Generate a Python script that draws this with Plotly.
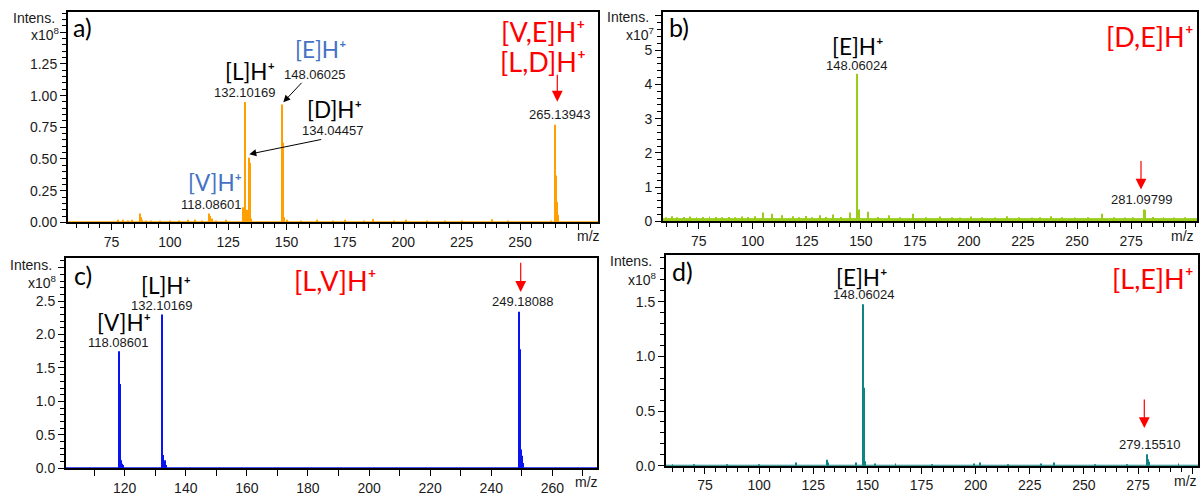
import plotly.graph_objects as go

W, H = 1201, 497

# ---------------- data ----------------
# Panel a: intensity in units of 1e8
a_mz = [78, 80, 82, 84, 87.2, 87.6, 88.2, 90, 92, 96, 100, 104, 108, 111, 114,
        116.9, 117.3, 118.1, 120, 124,
        131.5, 132.1, 132.4, 133.1, 133.8, 134.05, 134.4, 135.0,
        148.06, 148.4, 149.1, 150.1,
        156, 163, 170, 175, 183, 187, 196, 201, 210, 218, 225, 238, 245,
        263.4, 265.14, 265.45, 265.8, 266.14]
a_int = [0.02, 0.02, 0.015, 0.02, 0.07, 0.04, 0.02, 0.01, 0.015, 0.015, 0.015, 0.01, 0.02, 0.02, 0.015,
         0.07, 0.05, 0.03, 0.01, 0.02,
         0.12, 0.95, 0.14, 0.10, 0.50, 0.51, 0.47, 0.03,
         0.93, 0.63, 0.04, 0.02,
         0.015, 0.02, 0.015, 0.02, 0.015, 0.025, 0.015, 0.02, 0.01, 0.015, 0.015, 0.025, 0.01,
         0.01, 0.77, 0.37, 0.16, 0.06]

# Panel b: intensity in units of 1e7
b_floor = 0.08
b_mz = [60, 62.5, 65, 68, 71, 74, 77, 80, 83, 86, 89, 92, 95, 98, 101, 104.6, 108.8, 113.7,
        118.8, 121.5, 124.6, 127.5, 131.1, 134, 137.3, 141, 145, 148.06, 148.35, 149.1,
        153.5, 158, 163.2, 168, 174, 180, 186.6, 192, 196, 201, 206, 212, 217.8, 223,
        229, 233, 237.8, 243, 249, 255, 261.4, 267, 272, 276, 280.9, 281.4, 285, 290, 295, 300]
b_int = [0.12, 0.15, 0.12, 0.13, 0.14, 0.12, 0.13, 0.14, 0.13, 0.12, 0.13, 0.12, 0.14, 0.13, 0.15, 0.26, 0.22, 0.18,
         0.15, 0.12, 0.16, 0.12, 0.18, 0.13, 0.2, 0.13, 0.26, 4.31, 3.1, 0.35,
         0.28, 0.13, 0.18, 0.12, 0.22, 0.12, 0.14, 0.12, 0.11, 0.14, 0.12, 0.11, 0.15, 0.12,
         0.11, 0.12, 0.15, 0.12, 0.11, 0.12, 0.22, 0.12, 0.11, 0.12, 0.35, 0.33, 0.13, 0.12, 0.11, 0.12]

# Panel c: intensity in units of 1e8
c_mz = [118.09, 118.35, 118.7, 119.1, 119.4,
        132.1, 132.35, 132.6, 133.1, 133.5,
        249.18, 249.45, 249.75, 250.2, 250.5]
c_int = [1.75, 1.26, 0.12, 0.07, 0.05,
         2.30, 1.66, 0.20, 0.12, 0.05,
         2.34, 1.78, 0.28, 0.19, 0.08]

# Panel d: intensity in units of 1e8
d_mz = [60, 70, 85, 100, 117, 131.3, 131.7, 144.8, 148.06, 148.3, 149.1, 153.7, 163,
        180, 199.3, 202, 215, 230, 236, 255, 270, 279.16, 279.5, 280.0, 293.7]
d_int = [0.008, 0.008, 0.008, 0.008, 0.03, 0.055, 0.03, 0.03, 1.476, 0.714, 0.04, 0.02, 0.02,
         0.01, 0.02, 0.03, 0.01, 0.02, 0.03, 0.01, 0.01, 0.105, 0.06, 0.035, 0.02]

a_labels = ["132.10169", "148.06025", "134.04457", "118.08601", "265.13943"]
b_labels = ["148.06024", "281.09799"]
c_labels = ["118.08601", "132.10169", "249.18088"]
d_labels = ["148.06024", "279.15510"]

# ---------------- style ----------------
C_A = "#FFA000"
C_B = "#9ACD1A"
C_C = "#0A14F0"
C_D = "#0E8585"
C_BLUE = "#4472C4"
C_RED = "#FF0000"
TICKF = dict(family="Liberation Sans", size=14, color="#1a1a1a")
NUMF = dict(family="Liberation Sans", size=13, color="#1a1a1a")
SPF = dict(family="Lato", size=22.5, color="black")
REDF = dict(family="Lato", size=27, color=C_RED)
LETF = dict(family="Lato", size=25, color="black")
SMALL = dict(family="Liberation Sans", size=14, color="#1a1a1a")


def px(x):
    return x / W


def py(y):
    return 1 - y / H


fig = go.Figure()
panels = [
    ("x", "y", a_mz, a_int, C_A, 0.45),
    ("x2", "y2", b_mz, b_int, C_B, 0.45),
    ("x3", "y3", c_mz, c_int, C_C, 0.32),
    ("x4", "y4", d_mz, d_int, C_D, 0.45),
]
ranges_x = {"x": [56.4, 283.4], "x2": [58.5, 305.5], "x3": [100.8, 274.6], "x4": [57, 302.7]}

# noise floor in panel b
fig.add_trace(go.Scatter(x=ranges_x["x2"], y=[b_floor, b_floor], mode="lines", fill="tozeroy",
                         line=dict(color=C_B, width=1), fillcolor=C_B, xaxis="x2", yaxis="y2",
                         hoverinfo="skip"))
for xa, ya, mz, it, col, w in panels:
    fig.add_trace(go.Bar(x=mz, y=it, width=w, marker=dict(color=col, line=dict(width=0)),
                         xaxis=xa, yaxis=ya))
    # thin baseline of the spectrum
    fig.add_trace(go.Scatter(x=ranges_x[xa], y=[0, 0], mode="lines", line=dict(color=col, width=2),
                             xaxis=xa, yaxis=ya, hoverinfo="skip"))


def axis(dom, rng, vals, texts, minor, anchor):
    return dict(domain=dom, range=rng, anchor=anchor, tickvals=vals, ticktext=texts,
                ticks="outside", ticklen=6, tickwidth=1, tickcolor="black",
                minor=dict(dtick=minor, tick0=0, ticks="outside", ticklen=4, tickcolor="black"),
                showline=True, mirror=True, linecolor="black", linewidth=2,
                showgrid=False, zeroline=False, tickfont=TICKF)


xa_vals = list(range(75, 276, 25))
xb_vals = list(range(75, 301, 25))
xc_vals = list(range(110, 271, 10))
xd_vals = list(range(75, 301, 25))

fig.update_layout(
    width=W, height=H, margin=dict(l=0, r=0, t=0, b=0),
    paper_bgcolor="white", plot_bgcolor="white", showlegend=False, barmode="overlay",
    xaxis=axis([px(68), px(598)], ranges_x["x"], xa_vals,
               [str(v) if v <= 250 else "" for v in xa_vals], 5, "y"),
    yaxis=axis([py(226), py(12.7)], [0, 1.656], [0, 0.25, 0.5, 0.75, 1.0, 1.25, 1.5],
               ["0.00", "0.25", "0.50", "0.75", "1.00", "1.25", ""], 0.05, "x"),
    xaxis2=axis([px(663), px(1197)], ranges_x["x2"], xb_vals,
                [str(v) if v <= 275 else "" for v in xb_vals], 5, "y2"),
    yaxis2=axis([py(225), py(11.7)], [0, 6.13], [0, 1, 2, 3, 4, 5, 6],
                ["0", "1", "2", "3", "4", "5", ""], 0.2, "x2"),
    xaxis3=axis([px(66), px(597)], ranges_x["x3"], xc_vals,
                [str(v) if (v % 20 == 0 and v <= 260) else "" for v in xc_vals], 10, "y3"),
    yaxis3=axis([py(476), py(262.7)], [0, 3.137], [0, 0.5, 1.0, 1.5, 2.0, 2.5, 3.0],
                ["0.0", "0.5", "1.0", "1.5", "2.0", "2.5", ""], 0.1, "x3"),
    xaxis4=axis([px(666), px(1198)], ranges_x["x4"], xd_vals,
                [str(v) if v <= 275 else "" for v in xd_vals], 5, "y4"),
    yaxis4=axis([py(473.3), py(259.3)], [0, 1.926], [0, 0.5, 1.0, 1.5],
                ["0.0", "0.5", "1.0", "1.5"], 0.1, "x4"),
)

ann = []


def text(x, y, t, font, xanchor="center"):
    ann.append(dict(x=px(x), y=py(y), xref="paper", yref="paper", text=t, showarrow=False,
                    font=font, xanchor=xanchor, yanchor="middle", borderpad=0))


def arrow(xt, yt, xs, ys, color, width=1, size=1.2):
    ann.append(dict(x=px(xt), y=py(yt), xref="paper", yref="paper", ax=xs - xt, ay=ys - yt,
                    axref="pixel", ayref="pixel", text="", showarrow=True, arrowhead=2,
                    arrowsize=size, arrowwidth=width, arrowcolor=color))


SUP = "H\u207a"
# panel letters
text(82, 27, "a)", LETF)
text(679.5, 27, "b)", LETF)
text(82.5, 279.3, "c)", LETF)
text(682, 275, "d)", LETF)

# intensity axis labels
for xr, y1, y2, e in [(56, 18.3, 35, "8"), (650, 17.3, 35, "7"), (53, 269.3, 287, "8"), (653, 265, 284, "8")]:
    text(xr, y1, "Intens.", SMALL, "right")
    text(xr + 5, y2, "x10<sup>" + e + "</sup>", SMALL, "right")

# m/z labels
for x, y in [(588, 240), (1182, 240), (586, 490), (1185, 489)]:
    text(x, y, "m/z", SMALL)

# panel a
text(250, 73, "[L]" + SUP, SPF)
text(320, 50, "[E]" + SUP, dict(SPF, color=C_BLUE))
text(334.7, 111.7, "[D]" + SUP, SPF)
text(215, 185, "[V]" + SUP, dict(SPF, color=C_BLUE))
text(542.5, 32.5, "[V,E]" + SUP, REDF)
text(543, 62.5, "[L,D]" + SUP, REDF)
for (x, y), t in zip([(245, 93.8), (314, 75.5), (332, 132.2), (211, 207.8), (559.5, 116.7)], a_labels):
    text(x, y, t, NUMF)
arrow(283.3, 104, 303, 83, "black", 1, 1.4)
arrow(249.3, 156.7, 322.7, 141.7, "black", 1, 1.4)
arrow(557.3, 103.3, 557.3, 75, C_RED, 1.2, 1.8)

# panel b
text(857.5, 46.8, "[E]" + SUP, SPF)
text(1150, 37.3, "[D,E]" + SUP, REDF)
for (x, y), t in zip([(856, 66.3), (1141.5, 202.7)], b_labels):
    text(x, y, t, NUMF)
arrow(1141, 192.7, 1141, 162.7, C_RED, 1.2, 1.8)

# panel c
text(124, 327.7, "[V]" + SUP, SPF)
text(165.5, 290, "[L]" + SUP, SPF)
text(335, 285, "[L,V]" + SUP, REDF)
for (x, y), t in zip([(118, 347.8), (161.7, 310.7), (522.5, 306)], c_labels):
    text(x, y, t, NUMF)
arrow(520.7, 296.7, 520.7, 266, C_RED, 1.2, 1.8)

# panel d
text(861.7, 281.8, "[E]" + SUP, SPF)
text(1153, 283.3, "[L,E]" + SUP, REDF)
for (x, y), t in zip([(863, 299.6), (1149, 451.7)], d_labels):
    text(x, y, t, NUMF)
arrow(1144.3, 435, 1144.3, 405, C_RED, 1.2, 1.8)

fig.update_layout(annotations=ann)
fig.write_html("out.html", config={"displayModeBar": False},
               post_script="document.body.style.margin='0';document.body.style.overflow='hidden';")
